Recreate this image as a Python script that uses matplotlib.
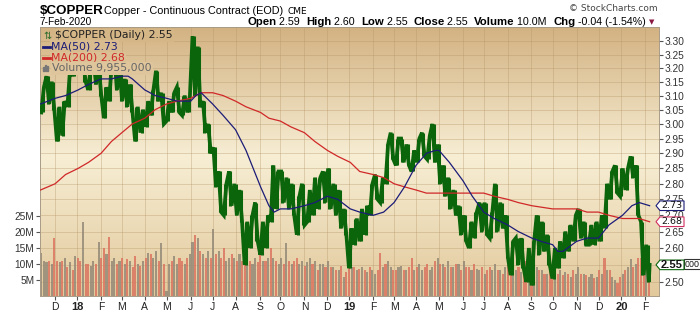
import numpy as np
import pandas as pd
import matplotlib
matplotlib.use("Agg")
import matplotlib.pyplot as plt
from matplotlib.ticker import FixedLocator, NullLocator, FixedFormatter
from matplotlib.patches import Polygon, Rectangle
from matplotlib.lines import Line2D
from matplotlib.colors import LinearSegmentedColormap, to_hex

W, H = 700, 312

# weekly low / high of $COPPER, week ending on Friday
week_end = pd.date_range("2017-11-17", "2020-02-07", freq="W-FRI")

lo_2017 = [3.04, 3.07, 3.05, 2.94, 2.96, 3.06, 3.17]
hi_2017 = [3.13, 3.17, 3.15, 3.06, 3.08, 3.19, 3.29]
lo_2018 = [3.18, 3.15, 3.12, 3.14, 3.10, 3.02, 3.08, 3.12, 3.08, 3.06, 3.04, 2.94, 2.97,
           2.99, 3.03, 3.08, 3.00, 3.01, 3.04, 3.04, 3.03, 3.04, 3.10, 3.06, 2.97, 2.90,
           2.79, 2.71, 2.70, 2.73, 2.70, 2.68, 2.55, 2.60, 2.62, 2.58, 2.60, 2.68, 2.72,
           2.74, 2.72, 2.70, 2.64, 2.67, 2.68, 2.70, 2.72, 2.74, 2.72, 2.70, 2.66, 2.64]
hi_2018 = [3.28, 3.23, 3.21, 3.23, 3.21, 3.13, 3.21, 3.25, 3.20, 3.16, 3.14, 3.06, 3.05,
           3.08, 3.12, 3.19, 3.11, 3.08, 3.11, 3.13, 3.10, 3.10, 3.32, 3.28, 3.08, 3.00,
           2.92, 2.84, 2.80, 2.84, 2.80, 2.78, 2.68, 2.70, 2.74, 2.68, 2.70, 2.86, 2.84,
           2.84, 2.82, 2.80, 2.76, 2.80, 2.78, 2.82, 2.82, 2.84, 2.85, 2.80, 2.78, 2.72]
lo_2019 = [2.54, 2.61, 2.62, 2.64, 2.70, 2.75, 2.74, 2.80, 2.88, 2.86, 2.87, 2.86, 2.84,
           2.87, 2.89, 2.88, 2.87, 2.80, 2.76, 2.72, 2.70, 2.64, 2.62, 2.60, 2.63, 2.65,
           2.64, 2.63, 2.65, 2.66, 2.57, 2.52, 2.55, 2.54, 2.50, 2.49, 2.58, 2.59, 2.55,
           2.51, 2.54, 2.57, 2.59, 2.62, 2.63, 2.61, 2.61, 2.61, 2.62, 2.66, 2.75, 2.77]
hi_2019 = [2.66, 2.69, 2.72, 2.73, 2.80, 2.83, 2.82, 2.93, 2.97, 2.95, 2.95, 2.93, 2.91,
           2.95, 2.97, 2.96, 3.00, 2.93, 2.86, 2.82, 2.78, 2.73, 2.70, 2.68, 2.71, 2.74,
           2.74, 2.71, 2.80, 2.74, 2.70, 2.62, 2.63, 2.63, 2.60, 2.62, 2.70, 2.68, 2.64,
           2.60, 2.62, 2.65, 2.67, 2.70, 2.72, 2.68, 2.67, 2.68, 2.70, 2.80, 2.84, 2.86]
lo_2020 = [2.76, 2.78, 2.82, 2.70, 2.52, 2.50]
hi_2020 = [2.85, 2.85, 2.89, 2.86, 2.68, 2.61]
last_close = 2.55

# volume in millions, two readings per week
vol_2017 = [13.5, 11, 10.5, 11, 10, 18, 11, 10.5, 11, 12, 9, 10.5, 8, 12.5]
vol_2018 = [12, 11, 23, 10, 10, 9.5, 11, 10, 17, 12, 15, 13, 18.5, 11, 12, 10, 11, 12,
            10, 11.5, 11, 9, 12.5, 10, 9.5, 11, 12, 13.5, 13, 12, 14, 11, 16.5, 10,
            1.5, 10, 11, 12.5, 10, 12, 11, 10, 12, 13, 17, 19, 18, 14, 13, 12, 14, 12,
            21, 13, 14, 12, 15, 11, 12, 13, 12, 11, 13, 11, 14, 12, 11, 10, 12, 10.5,
            13, 11, 11, 12, 15, 12, 11, 10, 12, 10, 16.5, 11, 10, 11, 12, 10, 11, 9.5,
            10.5, 12, 10, 11, 8, 10, 10, 9, 11, 9, 9, 8, 8, 9.5, 6, 7.5]
vol_2019 = [10, 9, 9, 8, 8.5, 9, 8, 7.5, 9, 8, 7, 8, 13.5, 9, 10, 11, 9, 8, 8, 9,
            9.5, 8, 8, 9, 12, 8, 9, 10, 8, 9, 10, 8, 9, 11, 12, 10, 10, 9, 11, 9,
            9, 10, 10, 8, 11, 9, 9, 8, 10, 8.5, 8, 9, 7, 8, 9, 8, 10, 8, 8, 7,
            9, 10, 11, 9, 8, 9, 7.5, 8, 11, 8, 10, 9, 9, 8, 8, 7, 7, 8, 8, 7,
            7, 8, 6.5, 7.5, 7, 6, 8, 7, 9, 7, 7, 6.5, 6, 7, 5.5, 6, 8, 7, 12, 8,
            8, 6, 5, 4]
vol_2020 = [6, 7, 8, 9, 11.5, 9, 10, 12, 12, 11, 11, 10]

# moving averages
ma50_dates = ["2017-11-13", "2017-12-01", "2017-12-15", "2018-01-02", "2018-01-16",
              "2018-02-01", "2018-02-15", "2018-03-01", "2018-03-09", "2018-03-15",
              "2018-04-02", "2018-04-16", "2018-05-01", "2018-05-15", "2018-06-01",
              "2018-06-08", "2018-06-15", "2018-07-02", "2018-07-16", "2018-08-01",
              "2018-08-15", "2018-09-04", "2018-09-14", "2018-09-21", "2018-10-01",
              "2018-10-15", "2018-11-01", "2018-11-15", "2018-12-03", "2018-12-17",
              "2019-01-02", "2019-01-15", "2019-02-01", "2019-02-15", "2019-03-01",
              "2019-03-15", "2019-04-01", "2019-04-15", "2019-04-26", "2019-05-01",
              "2019-05-15", "2019-06-03", "2019-06-14", "2019-07-01", "2019-07-15",
              "2019-08-01", "2019-08-15", "2019-09-03", "2019-09-16", "2019-10-01",
              "2019-10-08", "2019-10-15", "2019-11-01", "2019-11-15", "2019-12-02",
              "2019-12-16", "2020-01-02", "2020-01-15", "2020-01-24", "2020-02-07"]
ma50 = [3.07, 3.09, 3.10, 3.12, 3.14, 3.16, 3.16, 3.17, 3.17, 3.16,
        3.12, 3.10, 3.09, 3.08, 3.08, 3.10, 3.11, 3.07, 3.03, 2.98,
        2.91, 2.79, 2.73, 2.71, 2.72, 2.72, 2.73, 2.74, 2.76, 2.75,
        2.72, 2.71, 2.70, 2.71, 2.74, 2.79, 2.86, 2.90, 2.91, 2.91,
        2.87, 2.81, 2.76, 2.71, 2.69, 2.67, 2.65, 2.63, 2.62, 2.61,
        2.59, 2.59, 2.62, 2.63, 2.63, 2.67, 2.70, 2.73, 2.74, 2.73]

ma200_dates = ["2017-11-13", "2017-12-01", "2017-12-15", "2018-01-02", "2018-01-16",
               "2018-02-01", "2018-02-15", "2018-03-01", "2018-03-15", "2018-04-02",
               "2018-04-16", "2018-05-01", "2018-05-15", "2018-06-01", "2018-06-15",
               "2018-07-02", "2018-07-16", "2018-08-01", "2018-08-15", "2018-09-04",
               "2018-09-14", "2018-10-01", "2018-10-15", "2018-11-01", "2018-11-15",
               "2018-12-03", "2018-12-17", "2019-01-02", "2019-01-15", "2019-02-01",
               "2019-02-15", "2019-03-01", "2019-03-15", "2019-04-01", "2019-04-15",
               "2019-05-01", "2019-06-03", "2019-07-01", "2019-07-15", "2019-08-01",
               "2019-08-15", "2019-09-03", "2019-10-01", "2019-11-01", "2019-11-15",
               "2019-12-02", "2019-12-16", "2020-01-02", "2020-01-24", "2020-02-07"]
ma200 = [2.78, 2.80, 2.83, 2.85, 2.87, 2.90, 2.94, 2.97, 3.00, 3.02,
         3.05, 3.07, 3.08, 3.09, 3.11, 3.11, 3.10, 3.08, 3.06, 3.04,
         3.02, 3.01, 2.99, 2.97, 2.94, 2.91, 2.89, 2.87, 2.84, 2.83,
         2.82, 2.80, 2.79, 2.78, 2.77, 2.77, 2.77, 2.77, 2.76, 2.75,
         2.74, 2.73, 2.72, 2.72, 2.71, 2.71, 2.70, 2.69, 2.69, 2.68]

price_ticks = [2.50, 2.55, 2.60, 2.65, 2.70, 2.75, 2.80, 2.85, 2.90, 2.95,
               3.00, 3.05, 3.10, 3.15, 3.20, 3.25, 3.30]
vol_ticks = [5, 10, 15, 20, 25]

GREEN = "#0b650b"
NAVY = "#1c1c78"
RED = "#d02828"

lo = np.array(lo_2017 + lo_2018 + lo_2019 + lo_2020)
hi = np.array(hi_2017 + hi_2018 + hi_2019 + hi_2020)
vol = np.array(vol_2017 + vol_2018 + vol_2019 + vol_2020)

days = pd.bdate_range("2017-11-13", "2020-02-07")
fri = days.searchsorted(week_end)

# zigzag through the weekly extremes
xs, ys = [], []
mid = (lo + hi) / 2
for i, f in enumerate(fri):
    nxt = mid[i + 1] if i + 1 < len(mid) else last_close
    a, b = (lo[i], hi[i]) if nxt >= mid[i] else (hi[i], lo[i])
    xs += [f - 3.25, f - 0.75]
    ys += [a, b]
xs.append(fri[-1])
ys.append(last_close)
xs = np.array(xs)
ys = np.array(ys)

vcol = []
for i in range(len(vol)):
    up = i == 0 or ys[i] >= ys[i - 1]
    vcol.append("#948a78" if up else "#dc7560")

fig = plt.figure(figsize=(W / 100, H / 100), dpi=100)
fig.patch.set_facecolor("white")
rect = [40 / W, 16 / H, 619 / W, 269 / H]

# background gradient
stops = [(0.0, "#e2c99c"), (0.52, "#f7eed4"), (1.0, "#d3b282")]
cmap = LinearSegmentedColormap.from_list("bg", stops)
bg = fig.add_axes(rect, zorder=-1)
bg.imshow(np.linspace(0, 1, 256).reshape(-1, 1), cmap=cmap, aspect="auto",
          origin="lower", extent=[0, 1, 0, 1])
bg.set_axis_off()

axv = fig.add_axes(rect)
axv.patch.set_visible(False)
xmax = 593
axv.set_xlim(-0.5, xmax)
axv.set_ylim(0, 84)
axv.bar(xs[:-1], vol, width=2.0, color=vcol, alpha=0.85, linewidth=0, zorder=2)

ax = axv.twinx()
ax.set_yscale("log")
ax.set_ylim(2.46, 3.355)
ax.set_xlim(-0.5, xmax)

# grid: month verticals + price horizontals
months = pd.date_range("2017-12-01", "2020-02-01", freq="MS")
mpos = days.searchsorted(months)
axv.vlines(mpos, 0, 1, transform=axv.get_xaxis_transform(), color="#b39466",
           alpha=0.35, lw=0.7, zorder=1)
lmin, lmax = np.log(2.46), np.log(3.355)
fr = [(np.log(p) - lmin) / (lmax - lmin) for p in price_ticks]
axv.hlines(fr, 0, 1, transform=axv.transAxes, color="#b39466", alpha=0.35,
           lw=0.7, zorder=1)

# price ribbon: weekly range strokes plus the zigzag between them
ax.vlines(fri - 2, lo, hi, color=GREEN, lw=2.2, zorder=3)
ax.plot(xs, ys, color=GREEN, lw=2.7, solid_joinstyle="miter", zorder=3)
ax.plot(days.searchsorted(pd.to_datetime(ma200_dates)), ma200, color=RED, lw=0.9, zorder=4)
ax.plot(days.searchsorted(pd.to_datetime(ma50_dates)), ma50, color=NAVY, lw=0.9, zorder=4)

# axes styling
mlabels = []
for m in months:
    mlabels.append(m.strftime("%y") if m.month == 1 else m.strftime("%b")[0])
axv.xaxis.set_major_locator(FixedLocator(mpos))
axv.xaxis.set_major_formatter(FixedFormatter(mlabels))
axv.tick_params(axis="x", direction="out", length=3, pad=1.5, labelsize=7.5,
                color="#555", labelcolor="#222")
for t, m in zip(axv.get_xticklabels(), months):
    t.set_family("Liberation Sans")
    if m.month == 1:
        t.set_fontweight("bold")
        t.set_fontsize(8)

axv.yaxis.set_major_locator(FixedLocator(vol_ticks))
axv.yaxis.set_major_formatter(FixedFormatter([f"{v}M" for v in vol_ticks]))
axv.tick_params(axis="y", direction="out", length=3, pad=1, labelsize=7.3,
                color="#555", labelcolor="#333")
# the 2.55 label sits under the last-price tag, so it is not printed
plabels = ["" if p == last_close else f"{p:.2f}" for p in price_ticks]
ax.yaxis.set_major_locator(FixedLocator(price_ticks))
ax.yaxis.set_minor_locator(NullLocator())
ax.yaxis.set_major_formatter(FixedFormatter(plabels))
ax.tick_params(axis="y", direction="out", length=3, pad=1, labelsize=7.3,
               color="#555", labelcolor="#333")
for t in axv.get_yticklabels() + ax.get_yticklabels():
    t.set_family("Liberation Sans")
for a in (ax, axv):
    for s in a.spines.values():
        s.set_color("#a89c88")
        s.set_linewidth(0.6)

# header
def fy(y):
    return 1 - y / H

fig.text(40 / W, fy(14), "$COPPER", fontsize=9.6, fontweight="bold",
         family="Liberation Sans", va="baseline")
fig.text(104 / W, fy(14), "Copper - Continuous Contract (EOD)", fontsize=7.8,
         family="Liberation Sans", va="baseline")
fig.text(287 / W, fy(14), "CME", fontsize=6.5, family="DejaVu Sans", va="baseline")
fig.text(40 / W, fy(22), "7-Feb-2020", fontsize=7.3, family="Liberation Sans",
         va="center")
fig.text(658 / W, fy(8.5), "\u00a9 StockCharts.com", fontsize=6.5,
         family="DejaVu Sans", color="#444", ha="right", va="center")

pieces = [("Open", True), (" 2.59  ", False), ("High", True), (" 2.60  ", False),
          ("Low", True), (" 2.55  ", False), ("Close", True), (" 2.55  ", False),
          ("Volume", True), (" 10.0M  ", False), ("Chg", True),
          (" -0.04 (-1.54%) ", False)]
fig.canvas.draw()
r = fig.canvas.get_renderer()
x = 247
for s, b in pieces:
    t = fig.text(x / W, fy(22), s, fontsize=8.2 if b else 7.7,
                 fontweight="bold" if b else "normal", family="Liberation Sans",
                 va="center")
    x = t.get_window_extent(r).x1
fig.text(x / W, fy(22), "\u25bc", fontsize=5, color="#8a1840", va="center",
         family="DejaVu Sans")

# legend inside plot
def bgcol(y):
    f = (296 - y) / 269
    return to_hex(cmap(f))

leg = [(35.5, "$COPPER (Daily) 2.55", "#222222", 55),
       (46.5, "MA(50) 2.73", NAVY, 51),
       (58.0, "MA(200) 2.68", RED, 51),
       (68.5, "Volume 9,955,000", "#666666", 52)]
for y, s, c, x0 in leg:
    fig.text(x0 / W, fy(y), s, fontsize=7.8, family="DejaVu Sans", color=c,
             va="center", zorder=6,
             bbox=dict(boxstyle="square,pad=0.12", fc=bgcol(y), ec="none"))
fig.text(43 / W, fy(35.5), "\u21c5", fontsize=7, family="DejaVu Sans",
         color="#2a6a2a", va="center", zorder=6)
for y, c in ((46.5, NAVY), (58.0, RED)):
    fig.add_artist(Line2D([43 / W, 50 / W], [fy(y), fy(y)], color=c, lw=2,
                          zorder=7))
for dx, hh in ((0, 4), (2, 6), (4, 5)):
    fig.add_artist(Rectangle(((43 + dx) / W, fy(71)), 1.4 / W, hh / H,
                             color="#777777", zorder=7))

# value tags on the right
def tag(ypix, text, edge, bold=False, x0=656, x1=684, fs=6.8, family="DejaVu Sans",
        arrow=True):
    y = H - ypix
    h = 4.8
    tip = 4 if arrow else 0
    pts = [(x0, y), (x0 + tip, y - h), (x1, y - h), (x1, y + h), (x0 + tip, y + h)]
    fig.add_artist(Polygon([(px / W, fy(py)) for px, py in pts], closed=True,
                           fc="white", ec=edge, lw=0.8, zorder=8))
    fig.text((x0 + tip + 0.8) / W, fy(y), text, fontsize=fs, family=family,
             fontweight="bold" if bold else "normal", color="#111",
             va="center", zorder=9)

xr = xmax
ypx = lambda v: ax.transData.transform((xr, v))[1]
vpx = axv.transData.transform((0, 9.955))[1]
# volume tag: only its right end shows past the price tag
tag(vpx, "000", "#333333", x0=684, x1=712, fs=6.4, family="Liberation Sans",
    arrow=False)
tag(ypx(2.73), "2.73", NAVY)
tag(ypx(2.68), "2.68", "#d03060")
tag(ypx(2.55), "2.55", GREEN, bold=True, fs=8, family="Liberation Sans")

fig.savefig("out.png", dpi=100)
